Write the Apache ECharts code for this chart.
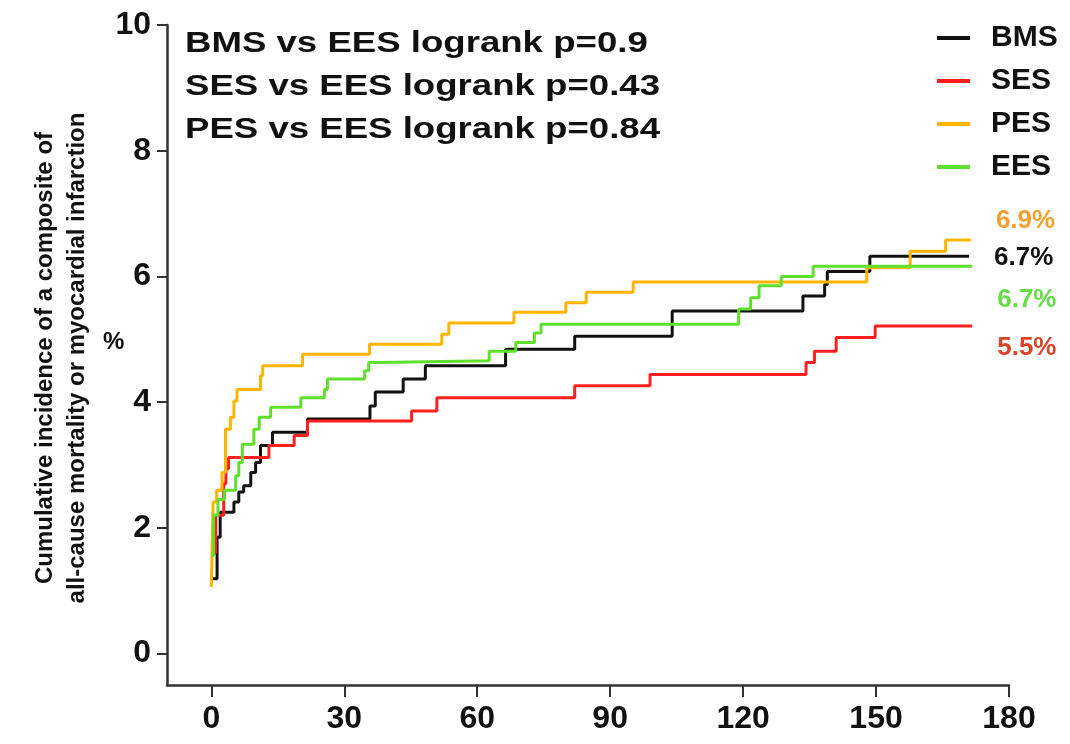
<!DOCTYPE html>
<html style="height: 100%">
<head>
<meta charset="utf-8">
<script src="https://cdn.jsdelivr.net/npm/echarts@6/dist/echarts.min.js"></script>
</head>
<body style="height: 100%; margin: 0; background: #fff">
<div id="container" style="width: 1070px; height: 744px"></div>
<script type="text/javascript">
// step points: day of each event and cumulative incidence (%) after it
var bmsDays = [0, 1.3, 2, 5.1, 6.2, 7.3, 8.9, 10, 11.1, 13.8, 21.7, 35.8, 37, 43.3, 48.3, 66.4, 82, 104, 133.5, 138.4, 139, 148.6, 171];
var bmsVals = [1.19, 1.85, 2.25, 2.41, 2.57, 2.67, 2.88, 3.04, 3.31, 3.52, 3.73, 3.94, 4.16, 4.37, 4.58, 4.84, 5.05, 5.45, 5.69, 5.87, 6.08, 6.32, 6.32];

var sesDays = [0, 1, 2.8, 3.3, 3.9, 13, 18.7, 21.7, 45.2, 50.9, 82, 99, 134.2, 136.1, 141, 149.8, 171.7];
var sesVals = [1.6, 2.2, 2.7, 2.94, 3.12, 3.31, 3.47, 3.7, 3.86, 4.07, 4.26, 4.44, 4.63, 4.81, 5.03, 5.21, 5.21];

var pesDays = [0, 0.4, 1.2, 2.4, 3.2, 4.3, 5.1, 5.8, 11.1, 11.6, 20.6, 35.7, 52, 53.6, 68.3, 80, 84.6, 95.2, 147.9, 157.7, 165.7, 171.4];
var pesVals = [1.06, 2.41, 2.6, 2.88, 3.57, 3.76, 4.02, 4.2, 4.42, 4.58, 4.76, 4.92, 5.08, 5.26, 5.43, 5.58, 5.75, 5.91, 6.14, 6.4, 6.58, 6.58];

var eesDays = [0, 0.5, 1.5, 3, 5.5, 6.2, 7, 9.6, 10.8, 13.4, 20.2, 25.5, 26.2, 34.6, 35.5, 38, 62.7, 68.7, 72.9, 74.4, 119, 121.7, 123.6, 128.6, 135.8, 171.7];
var eesVals = [1.56, 2.2, 2.45, 2.6, 2.83, 3.04, 3.33, 3.57, 3.76, 3.92, 4.07, 4.2, 4.37, 4.5, 4.63, 4.66, 4.81, 4.95, 5.1, 5.24, 5.48, 5.66, 5.85, 6.0, 6.16, 6.16];

var groups = ['BMS', 'SES', 'PES', 'EES'];
var endTexts = ['6.7%', '5.5%', '6.9%', '6.7%'];
var xTicks = [0, 30, 60, 90, 120, 150, 180];
var yTicks = [0, 2, 4, 6, 8, 10];
var pLines = ['BMS vs EES logrank p=0.9', 'SES vs EES logrank p=0.43', 'PES vs EES logrank p=0.84'];
var yTitle = 'Cumulative incidence of a composite of\nall-cause mortality or myocardial infarction';

var colors = ['#111111', '#ff1f1f', '#ffb400', '#5fe02c'];
var labelColors = ['#111111', '#d9442a', '#f2a02e', '#66dd44'];
var labelShift = [2, 22, -19, 33];

function zip(xs, ys) {
    return xs.map(function (x, i) { return [x, ys[i]]; });
}
var allData = [zip(bmsDays, bmsVals), zip(sesDays, sesVals), zip(pesDays, pesVals), zip(eesDays, eesVals)];

var FONT = 'Liberation Sans';
var chart = echarts.init(document.getElementById('container'));

var option = {
    animation: false,
    backgroundColor: '#fff',
    grid: { left: 167, right: 61, top: 25, bottom: 59 },
    legend: {
        orient: 'vertical',
        left: 932,
        top: 18,
        icon: 'rect',
        itemWidth: 33,
        itemHeight: 4,
        itemGap: 13,
        data: groups,
        textStyle: { fontFamily: FONT, fontSize: 30, fontWeight: 'bold', color: '#111', lineHeight: 30, padding: [0, 0, 0, 16] }
    },
    xAxis: {
        type: 'value',
        min: -10,
        max: 180,
        splitLine: { show: false },
        axisLine: { onZero: false, lineStyle: { color: '#333', width: 2.5 } },
        axisTick: { customValues: xTicks, length: 12, lineStyle: { color: '#333', width: 2 } },
        axisLabel: { customValues: xTicks, margin: 18, fontFamily: FONT, fontSize: 32, fontWeight: 'bold', color: '#111' }
    },
    yAxis: {
        type: 'value',
        min: -0.5,
        max: 10,
        splitLine: { show: false },
        axisLine: { show: true, onZero: false, lineStyle: { color: '#333', width: 2.5 } },
        axisTick: { show: true, customValues: yTicks, length: 10, lineStyle: { color: '#333', width: 2 } },
        axisLabel: { customValues: yTicks, margin: 16, fontFamily: FONT, fontSize: 32, fontWeight: 'bold', color: '#111' }
    },
    graphic: [
        { type: 'text', x: 61, y: 358, rotation: Math.PI / 2, style: { text: yTitle, font: 'bold 24px ' + FONT, fill: '#111', align: 'center', verticalAlign: 'middle', lineHeight: 32 } },
        { type: 'text', x: 103, y: 342, style: { text: '%', font: 'bold 24px ' + FONT, fill: '#111', verticalAlign: 'middle' } }
    ].concat(pLines.map(function (t, i) {
        return { type: 'text', x: 185, y: 44 + i * 43, scaleX: 1.22, style: { text: t, font: 'bold 30px ' + FONT, fill: '#111', verticalAlign: 'middle' } };
    })),
    series: groups.map(function (g, i) {
        return {
            name: g,
            type: 'line',
            step: 'end',
            showSymbol: false,
            data: allData[i],
            z: i === 3 ? 3 : 2,
            lineStyle: { color: colors[i], width: 3 },
            itemStyle: { color: colors[i] },
            endLabel: {
                show: true,
                formatter: endTexts[i],
                distance: 25,
                offset: [0, labelShift[i]],
                fontFamily: FONT,
                fontSize: 26,
                fontWeight: 'bold',
                color: labelColors[i]
            }
        };
    })
};
chart.setOption(option);
</script>
</body>
</html>
